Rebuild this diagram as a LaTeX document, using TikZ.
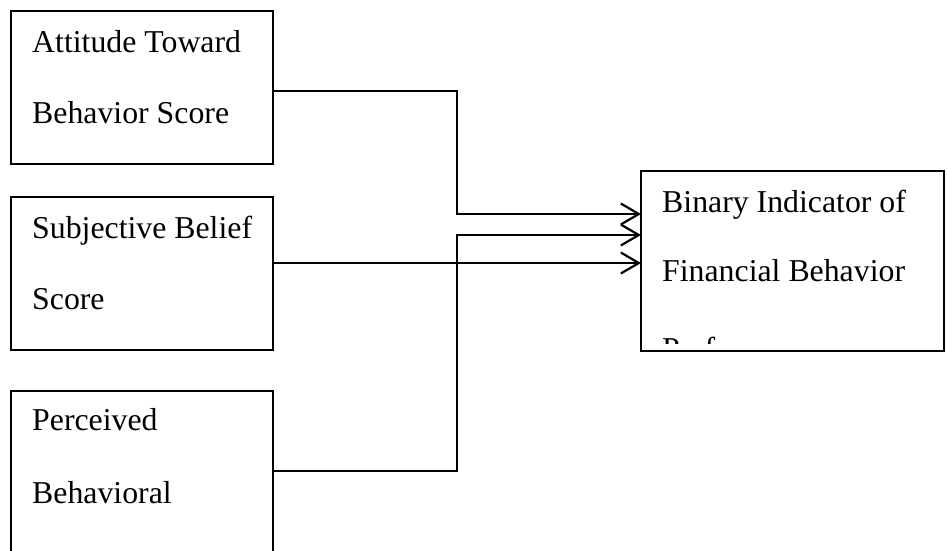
\documentclass[tikz,border=0pt]{standalone}
\usepackage{fontspec}
\setmainfont{Liberation Serif}
\usetikzlibrary{arrows.meta}
\begin{document}
\begin{tikzpicture}[x=1pt,y=-1pt,
  box/.style={draw,line width=2.2pt,anchor=north west,inner sep=0pt,outer sep=0pt},
  lbl/.style={anchor=base west,inner sep=0pt,font=\fontsize{31.8}{36}\selectfont},
  conn/.style={line width=2.2pt,-{Straight Barb[length=18pt,width=21pt,line width=2.2pt]}}]
\useasboundingbox (0,0) rectangle (948,550);
\clip (0,0) rectangle (948,550);
% boxes
\node[box,minimum width=262pt,minimum height=153pt] (b1) at (11,11) {};
\node[box,minimum width=262pt,minimum height=153pt] (b2) at (11,197) {};
\node[box,minimum width=262pt,minimum height=200pt] (b3) at (11,391) {};
\node[box,minimum width=303pt,minimum height=180pt] (rb) at (641,171) {};
% texts
\node[lbl] (t1a) at (32,52) {Attitude Toward};
\node[lbl] (t1b) at (32,123) {Behavior Score};
\node[lbl] (t2a) at (32,238) {Subjective Belief};
\node[lbl] (t2b) at (32,309) {Score};
\node[lbl] (t3a) at (32,430) {Perceived};
\node[lbl] (t3b) at (32,503) {Behavioral};
\node[lbl] (t4a) at (662,212) {Binary Indicator of};
\node[lbl] (t4b) at (662,281) {Financial Behavior};
\begin{scope}
\clip (641,171) rectangle (944,343);
\node[lbl] (t4c) at (662,359) {Performance};
\end{scope}
% connectors
\coordinate (j1) at (457,91);
\coordinate (j2) at (457,471);
\draw[conn] (b1.east |- j1) -- (j1) |- ([yshift=47pt]rb.west);
\draw[conn] (b3.north east |- j2) -- (j2) |- ([yshift=26pt]rb.west);
\draw[conn] ([yshift=10.5pt]b2.east) -- ([yshift=10.5pt]b2.east -| rb.west);
\end{tikzpicture}
\end{document}
